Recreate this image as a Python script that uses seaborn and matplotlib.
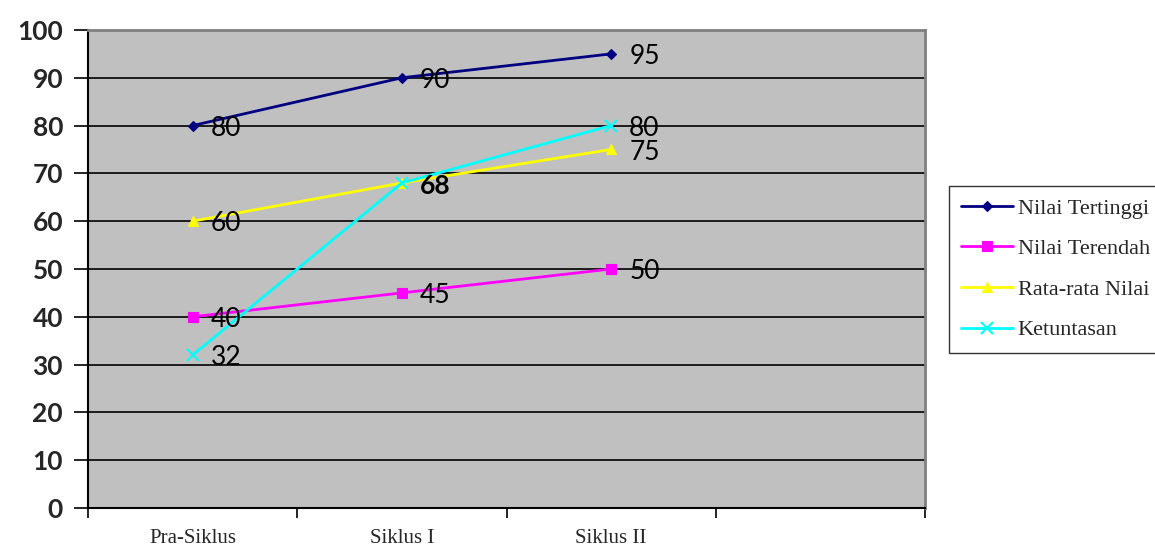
import matplotlib
matplotlib.use("Agg")
import matplotlib.pyplot as plt
import seaborn as sns
import pandas as pd
import numpy as np

# Categories and series
categories = ["Pra-Siklus", "Siklus I", "Siklus II"]
nilai_tertinggi = [80, 90, 95]
nilai_terendah = [40, 45, 50]
rata_rata = [60, 68, 75]
ketuntasan = [32, 68, 80]

series_names = ["Nilai Tertinggi", "Nilai Terendah", "Rata-rata Nilai", "Ketuntasan"]
series_values = [nilai_tertinggi, nilai_terendah, rata_rata, ketuntasan]
y_ticks = [0, 10, 20, 30, 40, 50, 60, 70, 80, 90, 100]

colors = ["#000080", "#FF00FF", "#FFFF00", "#00FFFF"]
markers = ["D", "s", "^", "x"]
msizes = [5, 7, 7, 8]

rows = []
for name, vals in zip(series_names, series_values):
    for i, (c, v) in enumerate(zip(categories, vals)):
        rows.append({"pos": i, "kategori": c, "seri": name, "nilai": v})
df = pd.DataFrame(rows)

sns.set_theme(style="white")
plt.rcParams["font.family"] = ["Lato", "DejaVu Sans"]

fig = plt.figure(figsize=(11.55, 5.5), dpi=100)
ax = fig.add_axes([0.0762, 0.0764, 0.7247, 0.8691])
ax.set_facecolor("#C0C0C0")

for name, col, mk, ms in zip(series_names, colors, markers, msizes):
    sub = df[df["seri"] == name]
    sns.lineplot(data=sub, x="pos", y="nilai", ax=ax, color=col, marker=mk,
                 markersize=ms, markeredgecolor=col, markeredgewidth=1.5 if mk == "x" else 0.8,
                 linewidth=2, label=name, legend=False, zorder=3)

# Value labels beside each point
label_specs = [
    (nilai_tertinggi, [False, False, False]),
    (nilai_terendah, [False, False, False]),
    (rata_rata, [False, True, False]),
    (ketuntasan, [False, True, False]),
]
drawn = set()
for vals, bolds in label_specs:
    for i, (v, b) in enumerate(zip(vals, bolds)):
        if (i, v) in drawn:
            continue
        drawn.add((i, v))
        ax.annotate(str(v), xy=(i, v), xytext=(13, -2), textcoords="offset points",
                    ha="left", va="center", fontsize=19,
                    fontweight="bold" if b else "normal", color="black", zorder=5)

ax.set_xlim(-0.5, 3.5)
ax.set_ylim(0, 100)
ax.set_yticks(y_ticks)
ax.set_yticklabels([str(t) for t in y_ticks], fontsize=19, fontweight="bold")
ax.yaxis.grid(True, color="black", linewidth=1.2)
ax.xaxis.grid(False)
ax.set_axisbelow(True)

# Category boundaries as major ticks, names on minor ticks
ax.set_xticks(np.arange(-0.5, 3.6, 1.0))
ax.set_xticklabels([])
ax.set_xticks(range(len(categories)), minor=True)
ax.set_xticklabels(categories, minor=True, fontsize=15, family="Liberation Serif")
ax.tick_params(axis="x", which="minor", length=0, pad=15)
ax.tick_params(axis="x", which="major", length=7, width=1.2, color="black", direction="out", bottom=True)
ax.tick_params(axis="y", length=10, width=1.2, color="black", direction="out", left=True, pad=8)
ax.set_xlabel("")
ax.set_ylabel("")

for side in ["left", "bottom"]:
    ax.spines[side].set_color("black")
    ax.spines[side].set_linewidth(1.5)
for side in ["top", "right"]:
    ax.spines[side].set_color("#808080")
    ax.spines[side].set_linewidth(2)

handles, labels = ax.get_legend_handles_labels()
leg = fig.legend(handles, labels, loc="upper left", bbox_to_anchor=(0.8216, 0.662),
                 frameon=True, fancybox=False, edgecolor="black", facecolor="white",
                 prop={"family": "Liberation Serif", "size": 16},
                 labelspacing=0.9, handlelength=2.35, handletextpad=0.2,
                 borderpad=0.55, borderaxespad=0)
leg.get_frame().set_linewidth(1.0)

fig.savefig("out.png", dpi=100)
